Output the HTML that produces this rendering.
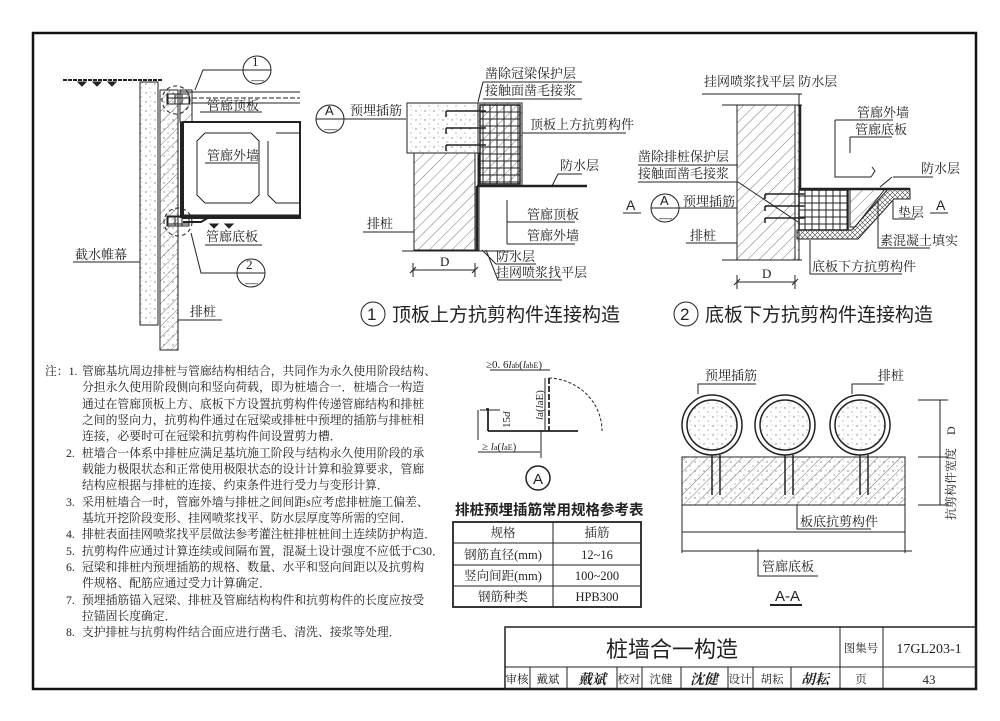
<!DOCTYPE html>
<html><head><meta charset="utf-8"><style>
html,body{margin:0;padding:0;background:#fff;}
svg{display:block;}
text{font-family:"Liberation Serif","Noto Serif CJK SC","Noto Sans CJK SC",serif;fill:#222;}
.s{font-family:"Liberation Sans","Noto Sans CJK SC",sans-serif;}
</style></head><body>
<svg width="1000" height="721" viewBox="0 0 1000 721" xmlns="http://www.w3.org/2000/svg">
<defs>
<pattern id="h" width="8" height="8" patternUnits="userSpaceOnUse" patternTransform="rotate(45)"><line x1="0" y1="0" x2="0" y2="8" stroke="#555" stroke-width="0.8"/></pattern>
<pattern id="d" width="9" height="9" patternUnits="userSpaceOnUse"><circle cx="2" cy="3" r="0.7" fill="#777"/><circle cx="6" cy="7" r="0.6" fill="#888"/><circle cx="7" cy="2" r="0.5" fill="#999"/></pattern>
<pattern id="x" width="5" height="5" patternUnits="userSpaceOnUse"><path d="M0 0L5 5M5 0L0 5" stroke="#444" stroke-width="0.6"/></pattern>
<pattern id="g" width="7" height="7" patternUnits="userSpaceOnUse"><rect width="7" height="7" fill="none" stroke="#222" stroke-width="1"/></pattern>
</defs>
<rect x="0" y="0" width="1000" height="721" fill="#fff"/>
<rect x="33" y="33" width="943" height="656" fill="none" stroke="#111" stroke-width="2.5"/>

<!-- ===== Drawing left ===== -->
<g stroke="#222" fill="none" stroke-width="1">
<line x1="63" y1="80" x2="163" y2="80" stroke-width="2" stroke-dasharray="4 1"/>
<path d="M78 82h8l-4 4zM93 82h8l-4 4zM108 82h8l-4 4z" fill="#222"/>
<rect x="140" y="82" width="18" height="243" fill="url(#d)"/>
<rect x="160" y="90" width="18" height="260" fill="url(#h)"/>
<rect x="160" y="90" width="18" height="260" fill="url(#d)"/>
<rect x="180" y="90" width="12" height="32" fill="url(#h)"/>
<line x1="180" y1="92" x2="300" y2="92"/><line x1="192" y1="98" x2="300" y2="98" stroke-dasharray="5 2"/><line x1="192" y1="103" x2="300" y2="103"/>
<rect x="183" y="122" width="117" height="96" stroke-width="2"/>
<line x1="181" y1="122" x2="181" y2="218" stroke-width="2"/>
<path d="M205 133h46l8 8v54l-8 8h-46l-8-8v-54z"/>
<path d="M276 133h24M268 141v54l8 8h24"/>
<line x1="183" y1="216" x2="300" y2="216" stroke-width="3"/>
<path d="M183 222h18l10-6" stroke-width="2"/>
<path d="M210 224h8l-4 4zM225 224h8l-4 4z" fill="#222"/>
<rect x="167" y="216" width="22" height="10" fill="url(#g)"/>
<rect x="167" y="94" width="22" height="10" fill="url(#g)"/>
<circle cx="176" cy="100" r="14" stroke-dasharray="4 3"/>
<circle cx="178" cy="222" r="14" stroke-dasharray="4 3"/>
<circle cx="257" cy="70" r="14"/><line x1="243" y1="70" x2="271" y2="70"/>
<path d="M243 70h-40l-8 20"/>
<circle cx="251" cy="273" r="14"/><line x1="237" y1="273" x2="265" y2="273"/>
<path d="M237 273h-36l-10-40"/>
<line x1="73" y1="262" x2="140" y2="262"/>
<line x1="178" y1="320" x2="222" y2="320"/>
<line x1="200" y1="112" x2="262" y2="112"/>
<line x1="205" y1="163" x2="258" y2="163"/>
<line x1="205" y1="245" x2="262" y2="245"/>
</g>
<g font-size="13">
<text x="207" y="110">管廊顶板</text>
<text x="207" y="160">管廊外墙</text>
<text x="206" y="241">管廊底板</text>
<text x="75" y="259">截水帷幕</text>
<text x="190" y="316">排桩</text>
<text x="252" y="66" font-size="13">1</text><text x="251" y="84">—</text>
<text x="246" y="269">2</text><text x="245" y="287">—</text>
</g>

<!-- ===== Detail 1 ===== -->
<g stroke="#222" fill="none" stroke-width="1">
<rect x="407" y="103" width="71" height="50" fill="url(#d)"/>
<rect x="414" y="153" width="61" height="97" fill="url(#h)"/>
<rect x="475" y="153" width="4" height="97" fill="url(#d)"/>
<rect x="478" y="103" width="44" height="83" fill="url(#h)"/>
<rect x="480" y="105" width="40" height="79" fill="url(#g)" stroke-width="1.5"/>
<path d="M446 111h40M446 128h40M446 145h40M446 111v6M446 128v6M446 145v6" stroke-width="1.5"/>
<path d="M477 186h110" stroke-width="2.5"/>
<path d="M477 186v64" stroke-width="2.5"/>
<path d="M402 251h112"/>
<line x1="483" y1="82" x2="582" y2="82"/><line x1="483" y1="99" x2="582" y2="99"/>
<path d="M483 82l-5 20"/>
<circle cx="330" cy="119" r="14"/><line x1="316" y1="119" x2="344" y2="119"/>
<path d="M344 119h62"/>
<path d="M522 133h104"/>
<path d="M558 174h24M558 174l-6 12"/>
<path d="M507 222h68M507 244h68M507 200v44"/>
<path d="M482 250l14 14h40M486 250l12 30h64"/>
<path d="M363 232h51"/>
<path d="M413 270h62M413 263v14M475 263v14M410 273l6-6M472 273l6-6"/>
<circle cx="373" cy="314" r="12"/>
</g>
<g font-size="13">
<text x="485" y="78">凿除冠梁保护层</text>
<text x="485" y="95">接触面凿毛接浆</text>
<text x="350" y="115">预埋插筋</text>
<text x="530" y="129">顶板上方抗剪构件</text>
<text x="560" y="170">防水层</text>
<text x="527" y="219">管廊顶板</text>
<text x="527" y="240">管廊外墙</text>
<text x="496" y="261">防水层</text>
<text x="496" y="277">挂网喷浆找平层</text>
<text x="367" y="228">排桩</text>
<text x="440" y="266">D</text>
<text x="325" y="115" class="s">A</text><text x="324" y="133">—</text>
<text x="367" y="320" class="s" font-size="17">1</text>
<text x="392" y="321" class="s" font-size="19">顶板上方抗剪构件连接构造</text>
</g>

<!-- ===== Detail 2 ===== -->
<g stroke="#222" fill="none" stroke-width="1">
<rect x="737" y="105" width="58" height="155" fill="url(#h)"/>
<rect x="795" y="105" width="4" height="155" fill="url(#d)"/>
<path d="M800 105v84h110" stroke-width="2.5"/>
<path d="M850 189h35l-30 38h-5z" fill="url(#h)"/>
<path d="M797 230h55l36-41h22v10h-16l-36 40h-61z" fill="url(#x)"/>
<rect x="799" y="190" width="49" height="40" fill="url(#g)" stroke-width="1.5"/>
<path d="M765 194h40M765 206h40M765 218h40M765 194v5M765 206v5M765 218v5" stroke-width="1.5"/>
<path d="M722 260h80M722 105h80"/>
<path d="M702 94h100M799 94v11"/>
<path d="M835 120h58M835 120v57h36M850 137h42M850 137v16M871 177l4 -6 -3 -4M893 177h40M880 187l12 -10"/>
<path d="M638 165h100M638 182h100M738 182l60 40"/>
<path d="M623 213h18M930 213h18"/>
<circle cx="665" cy="208" r="14"/><line x1="651" y1="208" x2="679" y2="208"/>
<path d="M679 208h58"/>
<path d="M686 243h51"/>
<path d="M893 201v18h22M878 201v47h52"/>
<path d="M810 240v34h92"/>
<path d="M737 282h58M737 275v14M795 275v14M734 285l6-6M792 285l6-6"/>
<circle cx="686" cy="314" r="12"/>
</g>
<g font-size="13">
<text x="704" y="86">挂网喷浆找平层 防水层</text>
<text x="857" y="117">管廊外墙</text>
<text x="855" y="134">管廊底板</text>
<text x="921" y="173">防水层</text>
<text x="638" y="161">凿除排桩保护层</text>
<text x="638" y="178">接触面凿毛接浆</text>
<text x="626" y="210" class="s" font-size="14">A</text>
<text x="660" y="205" class="s">A</text><text x="659" y="222">—</text>
<text x="683" y="206">预埋插筋</text>
<text x="690" y="240">排桩</text>
<text x="898" y="217">垫层</text>
<text x="936" y="210" class="s" font-size="14">A</text>
<text x="880" y="245">素混凝土填实</text>
<text x="812" y="271">底板下方抗剪构件</text>
<text x="762" y="278">D</text>
<text x="680" y="320" class="s" font-size="17">2</text>
<text x="705" y="321" class="s" font-size="19">底板下方抗剪构件连接构造</text>
</g>

<!-- ===== Notes ===== -->
<g font-size="11.8">
<text x="45" y="375">注：1.</text>
<text x="82" y="375">管廊基坑周边排桩与管廊结构相结合，共同作为永久使用阶段结构、</text>
<text x="82" y="391">分担永久使用阶段侧向和竖向荷载，即为桩墙合一．桩墙合一构造</text>
<text x="82" y="408">通过在管廊顶板上方、底板下方设置抗剪构件传递管廊结构和排桩</text>
<text x="82" y="424">之间的竖向力，抗剪构件通过在冠梁或排桩中预埋的插筋与排桩相</text>
<text x="82" y="440">连接，必要时可在冠梁和抗剪构件间设置剪力槽．</text>
<text x="66" y="457">2.</text><text x="82" y="457">桩墙合一体系中排桩应满足基坑施工阶段与结构永久使用阶段的承</text>
<text x="82" y="473">载能力极限状态和正常使用极限状态的设计计算和验算要求，管廊</text>
<text x="82" y="489">结构应根据与排桩的连接、约束条件进行受力与变形计算．</text>
<text x="66" y="506">3.</text><text x="82" y="506">采用桩墙合一时，管廊外墙与排桩之间间距s应考虑排桩施工偏差、</text>
<text x="82" y="522">基坑开挖阶段变形、挂网喷浆找平、防水层厚度等所需的空间．</text>
<text x="66" y="538">4.</text><text x="82" y="538">排桩表面挂网喷浆找平层做法参考灌注桩排桩桩间土连续防护构造．</text>
<text x="66" y="555">5.</text><text x="82" y="555">抗剪构件应通过计算连续或间隔布置，混凝土设计强度不应低于C30．</text>
<text x="66" y="571">6.</text><text x="82" y="571">冠梁和排桩内预埋插筋的规格、数量、水平和竖向间距以及抗剪构</text>
<text x="82" y="587">件规格、配筋应通过受力计算确定．</text>
<text x="66" y="604">7.</text><text x="82" y="604">预埋插筋锚入冠梁、排桩及管廊结构构件和抗剪构件的长度应按受</text>
<text x="82" y="620">拉锚固长度确定．</text>
<text x="66" y="636">8.</text><text x="82" y="636">支护排桩与抗剪构件结合面应进行凿毛、清洗、接浆等处理．</text>
</g>

<!-- ===== Detail A ===== -->
<g stroke="#222" fill="none" stroke-width="1">
<path d="M488 431v-22h-2M488 431h90" stroke-width="1.8"/>
<line x1="549" y1="378" x2="549" y2="431" stroke-width="1.8" stroke-dasharray="6 2"/>
<path d="M549 378a55 53 0 0 1 53 53" stroke-dasharray="3 2"/>
<path d="M490 370h60M478 410v30M478 452h62M541 430v28M545 378v52M480 410h20"/>
<circle cx="538" cy="478" r="12" stroke-width="1.5"/>
</g>
<g font-size="11">
<text x="486" y="368">≥0. 6<tspan font-style="italic">l</tspan><tspan font-size="8">ab</tspan>(<tspan font-style="italic">l</tspan><tspan font-size="8">abE</tspan>)</text>
<text x="482" y="450">≥ <tspan font-style="italic">l</tspan><tspan font-size="8">a</tspan>(<tspan font-style="italic">l</tspan><tspan font-size="8">aE</tspan>)</text>
<text x="0" y="0" transform="translate(510,428) rotate(-90)">15<tspan font-style="italic">d</tspan></text>
<text x="0" y="0" transform="translate(543,420) rotate(-90)"><tspan font-style="italic">l</tspan>a(<tspan font-style="italic">l</tspan>aE)</text>
<text x="533" y="484" class="s" font-size="15">A</text>
</g>

<!-- table -->
<text x="455" y="515" class="s" font-size="14.5" font-weight="bold">排桩预埋插筋常用规格参考表</text>
<g stroke="#222" fill="none">
<rect x="453" y="522" width="188" height="85" stroke-width="1.8"/>
<line x1="453" y1="543" x2="641" y2="543"/><line x1="453" y1="565" x2="641" y2="565"/><line x1="453" y1="586" x2="641" y2="586"/>
<line x1="553" y1="522" x2="553" y2="607"/>
</g>
<g font-size="12.5" text-anchor="middle">
<text x="503" y="537">规格</text><text x="597" y="537">插筋</text>
<text x="503" y="559">钢筋直径(mm)</text><text x="597" y="559">12~16</text>
<text x="503" y="580">竖向间距(mm)</text><text x="597" y="580">100~200</text>
<text x="503" y="601">钢筋种类</text><text x="597" y="601">HPB300</text>
</g>

<!-- ===== A-A ===== -->
<g stroke="#222" fill="none" stroke-width="1">
<rect x="682" y="457" width="223" height="48" fill="url(#h)"/>
<rect x="682" y="457" width="223" height="48" fill="url(#d)" stroke="none"/>
<g fill="#fff">
<circle cx="712" cy="425" r="30" stroke-width="1.5"/><circle cx="712" cy="425" r="25" fill="url(#d)" stroke-width="1.5"/>
<circle cx="785" cy="425" r="30" stroke-width="1.5"/><circle cx="785" cy="425" r="25" fill="url(#d)" stroke-width="1.5"/>
<circle cx="860" cy="425" r="30" stroke-width="1.5"/><circle cx="860" cy="425" r="25" fill="url(#d)" stroke-width="1.5"/>
</g>
<path d="M712 455v40M720 455v40M785 455v40M793 455v40M860 455v40M868 455v40" stroke-width="1.5"/>
<path d="M682 532h223M682 551h230M682 505v48M905 505v48"/>
<path d="M698 394v-10h58M852 394v-10h32"/>
<path d="M797 505v24h74M758 549v27h60"/>
<path d="M918 400h30M918 457h30M918 505h30M940 400v105"/>
<path d="M770 605h32" stroke-width="2"/>
</g>
<g font-size="13">
<text x="705" y="380">预埋插筋</text>
<text x="878" y="380">排桩</text>
<text x="800" y="526">板底抗剪构件</text>
<text x="762" y="571">管廊底板</text>
<text x="775" y="601" class="s" font-size="15">A-A</text>
<text x="0" y="0" transform="translate(955,435) rotate(-90)" font-size="12">D</text>
<text x="0" y="0" transform="translate(955,520) rotate(-90)" font-size="12">抗剪构件宽度</text>
</g>

<!-- ===== Title block ===== -->
<g stroke="#222" fill="none" stroke-width="1">
<rect x="505" y="627" width="471" height="62" stroke-width="1.5"/>
<line x1="505" y1="667" x2="976" y2="667"/>
<line x1="840" y1="627" x2="840" y2="689"/><line x1="883" y1="627" x2="883" y2="689"/>
<line x1="530" y1="667" x2="530" y2="689"/><line x1="567" y1="667" x2="567" y2="689"/>
<line x1="617" y1="667" x2="617" y2="689"/><line x1="642" y1="667" x2="642" y2="689"/>
<line x1="681" y1="667" x2="681" y2="689"/><line x1="728" y1="667" x2="728" y2="689"/>
<line x1="753" y1="667" x2="753" y2="689"/><line x1="791" y1="667" x2="791" y2="689"/>
</g>
<text x="672" y="657" class="s" font-size="22" text-anchor="middle">桩墙合一构造</text>
<g font-size="11.5" text-anchor="middle">
<text x="861" y="652">图集号</text>
<text x="929" y="653" font-size="14">17GL203-1</text>
<text x="517" y="683">审核</text><text x="548" y="683">戴斌</text>
<text x="592" y="684" font-weight="bold" font-style="italic" font-size="14">戴斌</text>
<text x="629" y="683">校对</text><text x="661" y="683">沈健</text>
<text x="704" y="684" font-weight="bold" font-style="italic" font-size="14">沈健</text>
<text x="740" y="683">设计</text><text x="772" y="683">胡耘</text>
<text x="815" y="684" font-weight="bold" font-style="italic" font-size="14">胡耘</text>
<text x="861" y="683">页</text><text x="929" y="684" font-size="13">43</text>
</g>
</svg>
</body></html>
